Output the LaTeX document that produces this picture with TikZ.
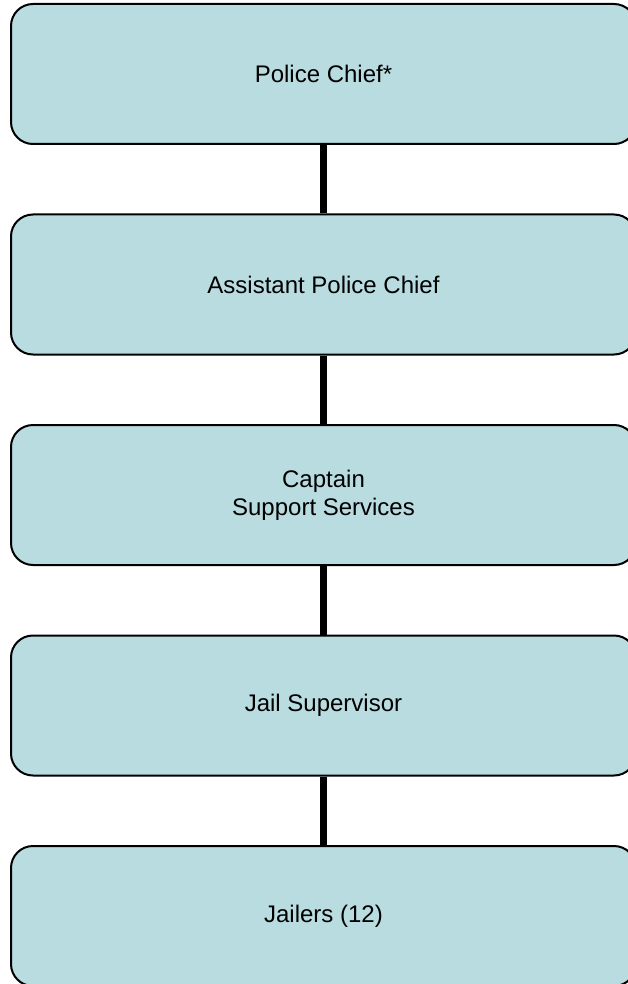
\documentclass[tikz,border=0pt]{standalone}
\usepackage{fontspec}
\setmainfont{Liberation Sans}
\usepackage{xcolor}
\usepackage{tikz}
\usetikzlibrary{positioning}

\definecolor{boxblue}{RGB}{185,220,224}

\begin{document}
\begin{tikzpicture}[
    x=1pt, y=-1pt,
    post/.style={draw=black, line width=2pt, fill=boxblue, rectangle, rounded corners=22pt,
        minimum width=625pt, minimum height=140pt, align=center, font=\fontsize{24}{28}\selectfont},
    link/.style={line width=6.5pt, black}
]
\useasboundingbox (0,0) rectangle (628,984);

% Chain of command, top to bottom
\node[post] (chief) at (323.5, 74) {Police Chief*};
\node[post] (assist) at (323.5, 284.5) {Assistant Police Chief};
\node[post] (captain) at (323.5, 495) {Captain\\Support Services};
\node[post] (jailsup) at (323.5, 705.5) {Jail Supervisor};
\node[post] (jailers) at (323.5, 916) {Jailers (12)};

% Links
\draw[link] (chief) -- (assist);
\draw[link] (assist) -- (captain);
\draw[link] (captain) -- (jailsup);
\draw[link] (jailsup) -- (jailers);

\end{tikzpicture}
\end{document}
